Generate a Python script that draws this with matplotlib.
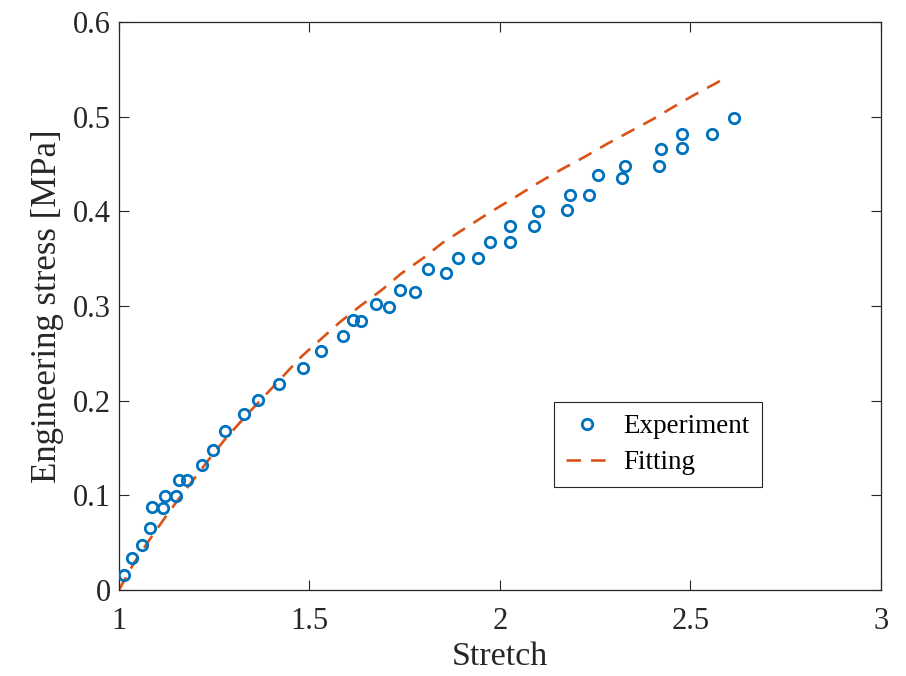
import matplotlib
matplotlib.use('Agg')
import matplotlib.pyplot as plt

# experiment points
stretch_exp = [1.013, 1.033, 1.060, 1.081, 1.086, 1.116, 1.121, 1.151, 1.157, 1.179,
               1.217, 1.248, 1.278, 1.329, 1.366, 1.421, 1.482, 1.529, 1.589, 1.615,
               1.635, 1.675, 1.710, 1.738, 1.777, 1.812, 1.858, 1.891, 1.942, 1.973,
               2.026, 2.026, 2.089, 2.101, 2.175, 2.184, 2.234, 2.258, 2.319, 2.328,
               2.418, 2.422, 2.477, 2.477, 2.556, 2.614]
stress_exp = [0.016, 0.034, 0.048, 0.065, 0.088, 0.087, 0.099, 0.099, 0.116, 0.116,
              0.132, 0.148, 0.168, 0.186, 0.201, 0.218, 0.234, 0.252, 0.268, 0.285,
              0.284, 0.302, 0.299, 0.317, 0.315, 0.339, 0.335, 0.351, 0.351, 0.368,
              0.368, 0.385, 0.385, 0.400, 0.401, 0.417, 0.417, 0.438, 0.435, 0.448,
              0.448, 0.466, 0.467, 0.482, 0.482, 0.499]

# fitted curve
stretch_fit = [1.00, 1.04, 1.08, 1.12, 1.16, 1.20, 1.24, 1.28, 1.34, 1.38, 1.48, 1.53,
               1.58, 1.63, 1.69, 1.74, 1.80, 1.85, 1.97, 2.04, 2.10, 2.16, 2.22, 2.28,
               2.34, 2.40, 2.45, 2.51, 2.57, 2.59]
stress_fit = [0.000, 0.029, 0.053, 0.076, 0.098, 0.119, 0.140, 0.160, 0.187, 0.204,
              0.247, 0.265, 0.283, 0.299, 0.317, 0.334, 0.351, 0.367, 0.398, 0.415,
              0.430, 0.444, 0.457, 0.471, 0.484, 0.497, 0.509, 0.523, 0.536, 0.541]

x_ticks = [1, 1.5, 2, 2.5, 3]
x_ticklabels = ['1', '1.5', '2', '2.5', '3']
y_ticks = [0, 0.1, 0.2, 0.3, 0.4, 0.5, 0.6]
y_ticklabels = ['0', '0.1', '0.2', '0.3', '0.4', '0.5', '0.6']

plt.rcParams['font.family'] = ['Liberation Serif', 'DejaVu Serif']

fig = plt.figure(figsize=(9.06, 6.76), dpi=100)
ax = fig.add_axes([0.1313, 0.1272, 0.8411, 0.8403])

ax.plot(stretch_exp, stress_exp, 'o', mfc='none', mec='#0072BD', ms=7.5, mew=2.0,
        label='Experiment', zorder=3)
ax.plot(stretch_fit, stress_fit, '--', color='#D95319', lw=1.9, dashes=(5.5, 3.8),
        label='Fitting', zorder=2)

ax.set_xlim(1, 3)
ax.set_ylim(0, 0.6)
ax.set_xticks(x_ticks)
ax.set_xticklabels(x_ticklabels)
ax.set_yticks(y_ticks)
ax.set_yticklabels(y_ticklabels)
ax.tick_params(direction='in', length=7, width=0.8, top=True, right=True,
               labelsize=22, colors='#262626')
ax.tick_params(axis='x', pad=12)
ax.tick_params(axis='y', pad=6)
for s in ax.spines.values():
    s.set_color('#262626')
    s.set_linewidth(0.9)

ax.set_xlabel('Stretch', fontsize=24.5, color='#262626', labelpad=4)
ax.set_ylabel('Engineering stress [MPa]', fontsize=25, color='#262626', labelpad=6)

leg = ax.legend(loc='lower left', bbox_to_anchor=(0.571, 0.181), borderaxespad=0,
                fontsize=19.5, handlelength=1.5, handletextpad=0.6, fancybox=False,
                edgecolor='#262626', framealpha=1, borderpad=0.45, labelspacing=0.4)
leg.get_frame().set_linewidth(0.8)

fig.savefig('out.png', dpi=100)
